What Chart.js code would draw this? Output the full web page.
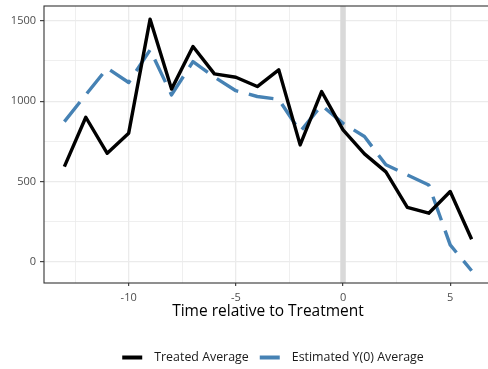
<!DOCTYPE html>
<html>
<head>
<meta charset="utf-8">
<script src="https://cdn.jsdelivr.net/npm/chart.js@4.4.1/dist/chart.umd.min.js"></script>
<style>
  html, body { margin: 0; padding: 0; overflow: hidden; background: #ffffff; }
  #wrap { position: relative; width: 546px; height: 369px; }
</style>
</head>
<body>
<div id="wrap"><canvas id="c"></canvas></div>
<script>
// Event-time periods relative to treatment
const periods = [-13, -12, -11, -10, -9, -8, -7, -6, -5, -4, -3, -2, -1, 0, 1, 2, 3, 4, 5, 6];
// Observed average outcome of treated units
const treatedAvg = [593, 900, 676, 801, 1510, 1075, 1340, 1170, 1149, 1091, 1195, 728, 1060, 821, 672, 560, 340, 303, 438, 141];
// Estimated counterfactual Y(0) average
const estimatedY0Avg = [873, 1040, 1205, 1116, 1319, 1039, 1246, 1150, 1065, 1029, 1012, 810, 975, 862, 780, 604, 541, 479, 106, -55];

const seriesNames = ['Treated Average', 'Estimated Y(0) Average'];
const xTitle = 'Time relative to Treatment';
const treatmentTime = 0;

const xMajorTicks = [-10, -5, 0, 5];
const xMinorTicks = [-12.5, -7.5, -2.5, 2.5];
const yMajorTicks = [0, 500, 1000, 1500];
const yMinorTicks = [250, 750, 1250];

const FONT = '"Open Sans", "Noto Sans", sans-serif';
const GRID = '#EBEBEB';
const INK = '#333333';

const toPoints = (ys) => periods.map((p, i) => ({ x: p, y: ys[i] }));
const isIn = (arr, v) => arr.some(a => Math.abs(a - v) < 1e-9);

// Shaded marker at the treatment time
const treatmentBand = {
  id: 'treatmentBand',
  beforeDatasetsDraw(chart) {
    const { ctx, chartArea, scales } = chart;
    const px = scales.x.getPixelForValue(treatmentTime);
    ctx.save();
    ctx.fillStyle = '#D9D9D9';
    ctx.fillRect(px - 2.75, chartArea.top, 5.5, chartArea.bottom - chartArea.top);
    ctx.restore();
  }
};

// Panel outline
const panelBorder = {
  id: 'panelBorder',
  afterDatasetsDraw(chart) {
    const { ctx, chartArea } = chart;
    ctx.save();
    ctx.strokeStyle = INK;
    ctx.lineWidth = 1.1;
    ctx.strokeRect(chartArea.left, chartArea.top, chartArea.right - chartArea.left, chartArea.bottom - chartArea.top);
    ctx.restore();
  }
};

// Legend row below the axis title
const bottomLegend = {
  id: 'bottomLegend',
  afterDraw(chart) {
    const { ctx } = chart;
    const y = 357.5;
    const keyLen = 20, keyGap = 12, itemGap = 11;
    ctx.save();
    ctx.font = '12.4px ' + FONT;
    const items = chart.data.datasets.map(ds => ({
      text: ds.label, color: ds.borderColor, w: ctx.measureText(ds.label).width
    }));
    let total = 0;
    items.forEach((it, i) => { total += keyLen + keyGap + it.w + (i < items.length - 1 ? itemGap : 0); });
    let x = chart.width / 2 - total / 2;
    items.forEach(it => {
      ctx.strokeStyle = it.color;
      ctx.lineWidth = 4;
      ctx.lineCap = 'butt';
      ctx.beginPath();
      ctx.moveTo(x, y);
      ctx.lineTo(x + keyLen, y);
      ctx.stroke();
      x += keyLen + keyGap;
      ctx.fillStyle = '#1A1A1A';
      ctx.textBaseline = 'middle';
      ctx.textAlign = 'left';
      ctx.fillText(it.text, x, y);
      x += it.w + itemGap;
    });
    ctx.restore();
  }
};

new Chart(document.getElementById('c'), {
  type: 'line',
  data: {
    datasets: [
      {
        label: seriesNames[0],
        data: toPoints(treatedAvg),
        borderColor: '#000000',
        borderWidth: 3.4,
        pointRadius: 0,
        tension: 0,
        borderJoinStyle: 'round',
        borderCapStyle: 'butt'
      },
      {
        label: seriesNames[1],
        data: toPoints(estimatedY0Avg),
        borderColor: '#4682B4',
        borderWidth: 3.4,
        borderDash: [25, 11],
        pointRadius: 0,
        tension: 0,
        borderJoinStyle: 'round',
        borderCapStyle: 'butt'
      }
    ]
  },
  options: {
    responsive: true,
    maintainAspectRatio: false,
    animation: false,
    events: [],
    layout: { padding: { left: 0, top: 6, right: 54, bottom: 48 } },
    plugins: {
      legend: { display: false },
      tooltip: { enabled: false }
    },
    scales: {
      x: {
        type: 'linear',
        min: -13.95,
        max: 6.95,
        afterBuildTicks(scale) {
          scale.ticks = [...xMinorTicks, ...xMajorTicks].sort((a, b) => a - b).map(v => ({ value: v }));
        },
        afterFit(scale) {
          scale.height = 38;
          scale.paddingLeft = 0;
          scale.paddingRight = 0;
        },
        ticks: {
          autoSkip: false,
          maxRotation: 0,
          padding: 5,
          color: '#4D4D4D',
          font: { family: FONT, size: 11 },
          callback: (v) => isIn(xMajorTicks, v) ? String(v) : ''
        },
        grid: {
          color: GRID,
          lineWidth: (c) => (c.tick && isIn(xMajorTicks, c.tick.value)) ? 1.3 : 0.8,
          tickLength: 3,
          tickColor: (c) => (c.tick && isIn(xMajorTicks, c.tick.value)) ? INK : 'rgba(0,0,0,0)',
          tickWidth: 1.1
        },
        border: { display: false },
        title: {
          display: true,
          text: xTitle,
          color: '#000000',
          font: { family: FONT, size: 15.5 },
          padding: { top: 0, bottom: 0 }
        }
      },
      y: {
        type: 'linear',
        min: -131,
        max: 1592,
        afterBuildTicks(scale) {
          scale.ticks = [...yMajorTicks, ...yMinorTicks].sort((a, b) => a - b).map(v => ({ value: v }));
        },
        afterFit(scale) {
          scale.width = 44;
          scale.paddingTop = 0;
          scale.paddingBottom = 0;
        },
        ticks: {
          autoSkip: false,
          padding: 4,
          color: '#4D4D4D',
          font: { family: FONT, size: 11 },
          callback: (v) => isIn(yMajorTicks, v) ? String(v) : ''
        },
        grid: {
          color: GRID,
          lineWidth: (c) => (c.tick && isIn(yMajorTicks, c.tick.value)) ? 1.3 : 0.8,
          tickLength: 4,
          tickColor: (c) => (c.tick && isIn(yMajorTicks, c.tick.value)) ? INK : 'rgba(0,0,0,0)',
          tickWidth: 1.1
        },
        border: { display: false }
      }
    }
  },
  plugins: [treatmentBand, panelBorder, bottomLegend]
});
</script>
</body>
</html>
